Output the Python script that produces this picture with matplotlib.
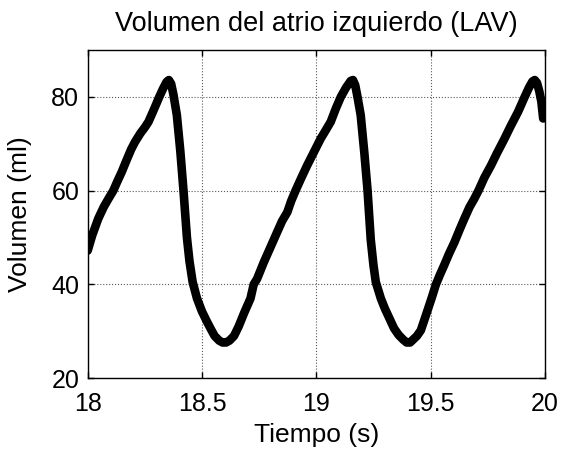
import matplotlib
matplotlib.use("Agg")
import matplotlib.pyplot as plt

# Time (s) and left-atrial volume (ml)
tiempo = [18.000, 18.020, 18.046, 18.070, 18.090, 18.112, 18.130, 18.149, 18.170, 18.190,
          18.207, 18.230, 18.250, 18.266, 18.285, 18.300, 18.313, 18.330, 18.345, 18.355,
          18.365, 18.375, 18.390, 18.405, 18.419, 18.434, 18.445, 18.459, 18.478, 18.500,
          18.520, 18.536, 18.555, 18.575, 18.590, 18.605, 18.620, 18.640, 18.660, 18.685,
          18.712, 18.726, 18.741, 18.770, 18.800, 18.829, 18.850, 18.873, 18.890, 18.909,
          18.935, 18.960, 18.990, 19.019, 19.040, 19.063, 19.085, 19.107, 19.130, 19.150,
          19.160, 19.170, 19.180, 19.194, 19.210, 19.224, 19.238, 19.250, 19.260, 19.282,
          19.300, 19.320, 19.340, 19.360, 19.380, 19.395, 19.410, 19.425, 19.440, 19.457,
          19.475, 19.490, 19.505, 19.523, 19.540, 19.560, 19.580, 19.604, 19.625, 19.647,
          19.670, 19.690, 19.709, 19.735, 19.764, 19.790, 19.823, 19.850, 19.882, 19.911,
          19.930, 19.945, 19.955, 19.965, 19.975, 19.984, 19.992]
volumen = [47.2, 50.5, 54.0, 56.5, 58.2, 60.0, 62.0, 64.0, 66.5, 68.8,
           70.4, 72.2, 73.5, 74.7, 76.8, 78.5, 80.0, 81.8, 83.2, 83.6,
           82.8, 80.5, 76.1, 68.5, 60.0, 50.0, 45.0, 40.5, 37.0, 34.2,
           32.2, 30.7, 29.0, 28.0, 27.6, 27.6, 28.0, 29.0, 31.0, 34.0,
           37.0, 40.0, 41.2, 44.7, 48.0, 51.2, 53.5, 55.4, 57.8, 60.0,
           62.8, 65.4, 68.3, 71.1, 72.8, 74.7, 77.5, 80.0, 82.0, 83.4,
           83.6, 82.5, 80.0, 76.1, 68.0, 60.0, 49.5, 44.0, 40.5, 37.0,
           34.8, 32.7, 30.6, 29.2, 28.2, 27.6, 27.6, 28.3, 29.0, 30.2,
           32.8, 35.0, 37.2, 40.0, 42.0, 44.2, 46.5, 49.0, 51.5, 54.0,
           56.5, 58.2, 60.0, 62.8, 65.4, 68.0, 71.1, 73.8, 76.8, 80.0,
           82.0, 83.3, 83.6, 83.0, 81.2, 79.0, 75.4]

xticks = [18, 18.5, 19, 19.5, 20]
xtick_labels = ["18", "18.5", "19", "19.5", "20"]
yticks = [20, 40, 60, 80]
ytick_labels = ["20", "40", "60", "80"]

plt.rcParams['font.family'] = ['Liberation Sans', 'DejaVu Sans']

fig = plt.figure(figsize=(5.61, 4.55), dpi=100)
ax = fig.add_axes([0.1563, 0.169, 0.8152, 0.721])

ax.plot(tiempo, volumen, color='black', linewidth=6.2,
        solid_capstyle='round', solid_joinstyle='round', zorder=3)

ax.set_xlim(18, 20)
ax.set_ylim(20, 90)
ax.set_xticks(xticks)
ax.set_xticklabels(xtick_labels)
ax.set_yticks(yticks)
ax.set_yticklabels(ytick_labels)

ax.grid(True, linestyle=':', color='0.35', linewidth=0.8)
ax.tick_params(direction='in', top=True, right=True, length=4, width=1,
               labelsize=18)
ax.tick_params(axis='x', pad=10)
ax.tick_params(axis='y', pad=6)
for s in ax.spines.values():
    s.set_linewidth(1.0)

ax.set_title("Volumen del atrio izquierdo (LAV)", fontsize=19.5, pad=14)
ax.set_xlabel("Tiempo (s)", fontsize=19, labelpad=5)
ax.set_ylabel("Volumen (ml)", fontsize=19, labelpad=14)

fig.savefig("out.png", dpi=100)
